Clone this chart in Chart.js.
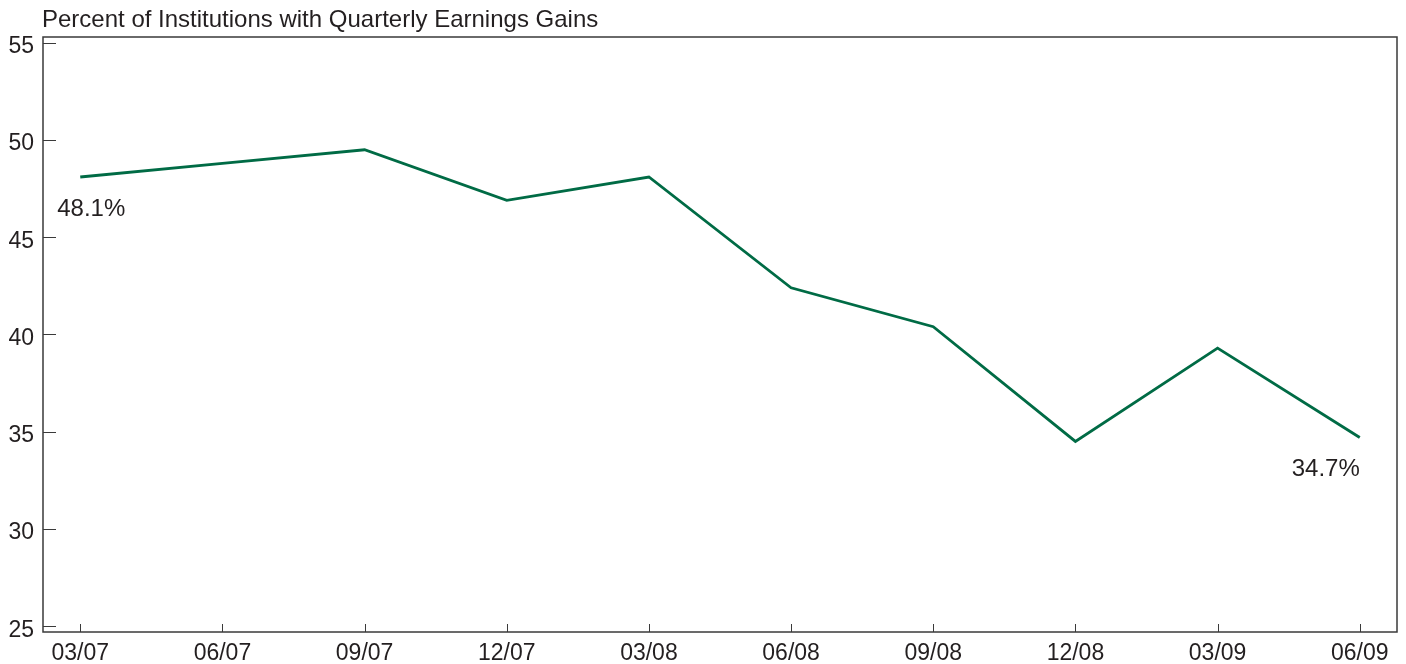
<!DOCTYPE html>
<html>
<head>
<meta charset="utf-8">
<script src="https://cdn.jsdelivr.net/npm/chart.js@4/dist/chart.umd.min.js"></script>
<style>
  html, body { margin: 0; padding: 0; background: #fff; }
  #wrap { width: 1406px; height: 664px; }
</style>
</head>
<body>
<div id="wrap"><canvas id="earningsChart" width="1406" height="664"></canvas></div>
<script>
// data
const quarters = ['03/07', '06/07', '09/07', '12/07', '03/08', '06/08', '09/08', '12/08', '03/09', '06/09'];
const pctGains = [48.1, 48.8, 49.5, 46.9, 48.1, 42.4, 40.4, 34.5, 39.3, 34.7];
const yTicks = [25, 30, 35, 40, 45, 50, 55];
const labelledPoints = [0, 9];
const chartTitle = 'Percent of Institutions with Quarterly Earnings Gains';

const textColor = '#231f20';
const fontFamily = '"Liberation Sans", Arial, Helvetica, sans-serif';

// frame, inner ticks, title and value labels
const decorPlugin = {
    id: 'decor',
    afterDraw(chart) {
        const ctx = chart.ctx;
        const area = chart.chartArea;
        const xs = chart.scales.x;
        const ys = chart.scales.y;
        ctx.save();
        ctx.strokeStyle = '#3a3a3a';
        ctx.lineWidth = 1.5;
        ctx.strokeRect(area.left, area.top, area.right - area.left, area.bottom - area.top);

        ctx.lineWidth = 1;
        ctx.beginPath();
        yTicks.forEach(v => {
            const y = Math.round(ys.getPixelForValue(v)) + 0.5;
            ctx.moveTo(area.left, y);
            ctx.lineTo(area.left + 13, y);
        });
        quarters.forEach((q, i) => {
            const x = Math.round(xs.getPixelForValue(i)) + 0.5;
            ctx.moveTo(x, area.bottom);
            ctx.lineTo(x, area.bottom - 8);
        });
        ctx.stroke();

        ctx.fillStyle = textColor;
        ctx.font = '24px ' + fontFamily;
        ctx.textBaseline = 'alphabetic';
        ctx.textAlign = 'left';
        ctx.fillText(chartTitle, area.left - 1, 27);

        ctx.font = '24px ' + fontFamily;
        labelledPoints.forEach(i => {
            const x = xs.getPixelForValue(i);
            const y = ys.getPixelForValue(pctGains[i]);
            const txt = pctGains[i].toFixed(1) + '%';
            if (i === 0) {
                ctx.textAlign = 'left';
                ctx.fillText(txt, x - 23, y + 39);
            } else {
                ctx.textAlign = 'right';
                ctx.fillText(txt, x, y + 38);
            }
        });
        ctx.restore();
    }
};

new Chart(document.getElementById('earningsChart'), {
    type: 'line',
    data: {
        datasets: [{
            data: pctGains.map((v, i) => ({ x: i, y: v })),
            borderColor: '#006b45',
            borderWidth: 2.8,
            pointRadius: 0,
            fill: false,
            tension: 0
        }]
    },
    options: {
        responsive: false,
        animation: false,
        layout: { padding: { top: 37, right: 9, left: 0, bottom: 0 } },
        plugins: {
            legend: { display: false },
            tooltip: { enabled: false },
            title: { display: false }
        },
        scales: {
            x: {
                type: 'linear',
                min: -0.262,
                max: 9.262,
                grid: { display: false, drawTicks: false },
                border: { display: false },
                afterBuildTicks: s => { s.ticks = quarters.map((q, i) => ({ value: i })); },
                afterFit: s => { s.height = 32; },
                ticks: {
                    autoSkip: false,
                    maxRotation: 0,
                    padding: 8,
                    color: textColor,
                    font: { family: fontFamily, size: 23 },
                    callback: v => quarters[v]
                }
            },
            y: {
                min: 24.7,
                max: 55.3,
                grid: { display: false, drawTicks: false },
                border: { display: false },
                afterBuildTicks: s => { s.ticks = yTicks.map(v => ({ value: v })); },
                afterFit: s => { s.width = 43; },
                ticks: {
                    padding: 9,
                    labelOffset: 4,
                    color: textColor,
                    font: { family: fontFamily, size: 23 }
                }
            }
        }
    },
    plugins: [decorPlugin]
});
</script>
</body>
</html>
